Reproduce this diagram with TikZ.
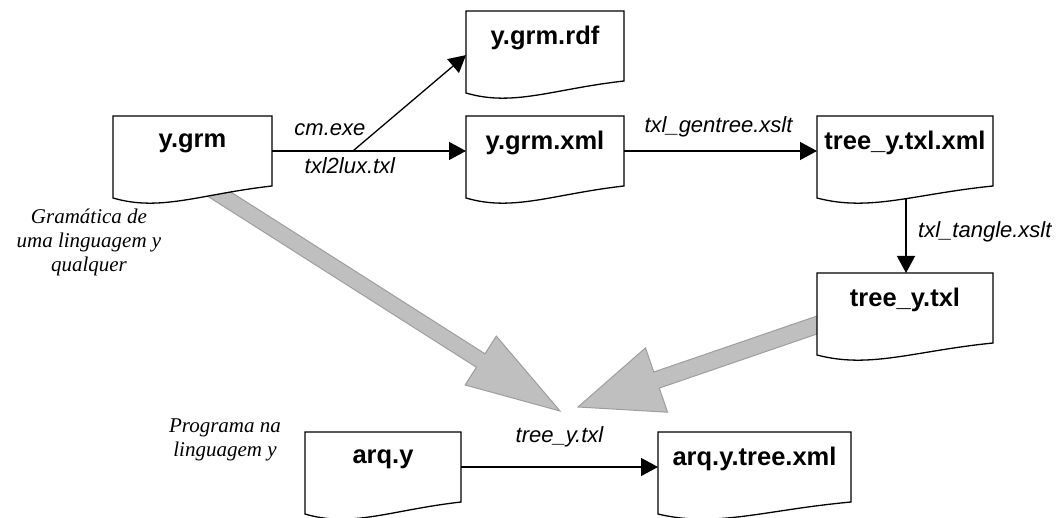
\documentclass[tikz,border=0pt]{standalone}
\usepackage{fontspec}
\setmainfont{Liberation Sans}
\newfontfamily\notefont{Liberation Serif}
\usetikzlibrary{arrows.meta,calc,backgrounds}

% document symbol: flat top, wavy bottom; text sits in the upper part
\newcommand\docbox[5]{%
  \node[docnode, minimum width=#4pt, anchor=north west] (#1) at (#2,#3) {};
  \draw[docline] (#1.north west) -- (#1.north east) -- (#1.south east)
    .. controls ($(#1.south west)!0.55!(#1.south east)+(0,8)$)
       and ($(#1.south west)!0.3!(#1.south east)+(0,26)$)
    .. ($(#1.south west)+(0,12)$) -- cycle;
  \node[doctext] (#1-t) at ($(#1.north)+(0,27)$) {#5};
}

% broad grey block arrow: start, tip, head length, head half width, shaft half width
\newcommand\bigarrow[5]{%
  \coordinate (bas) at ($(#2)!1.06!(#1)$);
  \coordinate (bab) at ($(#2)!#3pt!(#1)$);
  \path[bigarrow] ($(bas)!#5pt!90:(#2)$) -- ($(bab)!#5pt!90:(#2)$)
    -- ($(bab)!#4pt!90:(#2)$) -- (#2) -- ($(bab)!#4pt!-90:(#2)$)
    -- ($(bab)!#5pt!-90:(#2)$) -- ($(bas)!#5pt!-90:(#2)$) -- cycle;
}

\begin{document}
\begin{tikzpicture}[x=1pt,y=-1pt,
  docnode/.style={inner sep=0pt,outer sep=0pt,minimum height=70pt},
  docline/.style={draw=black,fill=white,line width=1.3pt,line join=miter},
  doctext/.style={font=\fontsize{25.5}{30}\selectfont\bfseries,inner sep=0pt},
  flow/.style={draw=black,line width=1.3pt,-{Triangle[length=17pt,width=18pt]}},
  lab/.style={font=\fontsize{22}{26}\selectfont\itshape,inner sep=0pt},
  note/.style={font=\notefont\itshape\fontsize{21}{24}\selectfont,align=center,inner sep=0pt},
  bigarrow/.style={fill=black!25,draw=black!38,line width=1pt,line join=miter}
]
\useasboundingbox (0,0) rectangle (1058,518);

% files
\docbox{grm}{113}{116}{159}{y.grm}
\docbox{rdf}{466}{11}{158}{y.grm.rdf}
\docbox{xml}{466}{116}{158}{y.grm.xml}
\docbox{treexml}{817}{116}{176}{tree\_y.txl.xml}
\docbox{treetxl}{817}{273}{176}{tree\_y.txl}
\docbox{arq}{305}{432}{156}{arq.y}
\docbox{arqxml}{658}{432}{193}{arq.y.tree.xml}

% side notes
\node[note] (gram) at (89,242) {Gramática de\\uma linguagem y\\qualquer};
\node[note] (prog) at (225,440) {Programa na\\linguagem y};

% processing steps
\draw[flow] (grm.east) -- (xml.west);
\coordinate (split) at ($(grm.east)!0.417!(xml.west)$);
\draw[flow] (split) -- ($(rdf.west)!0.26!(rdf.south west)$);
\node[lab] (lcm) at ($(split)+(-23,-21)$) {cm.exe};
\node[lab] (ltxl) at ($(split)+(-3,15)$) {txl2lux.txl};

\draw[flow] (xml.east) -- (treexml.west);
\node[lab] (lgen) at ($(xml.east)!0.5!(treexml.west)+(-2,-24)$) {txl\_gentree.xslt};

\coordinate (txbot) at ($(treexml.south)+(1,13)$);
\draw[flow] (txbot) -- (txbot |- treetxl.north);
\node[lab,anchor=west] (ltangle) at ($(txbot)!0.45!(txbot |- treetxl.north)+(12,0)$) {txl\_tangle.xslt};

\draw[flow] (arq.east) -- (arqxml.west);
\node[lab] (ltree) at ($(arq.east)!0.5!(arqxml.west)+(0,-30)$) {tree\_y.txl};

% grammar and tree feed the generated parser
\begin{pgfonlayer}{background}
  \coordinate (g1t) at (560,411);
  \coordinate (g1s) at ($(grm.south west)!0.667!(grm.south east)+(0,8)$);
  \bigarrow{g1s}{g1t}{94}{29}{8}
  \coordinate (g2t) at (578,407);
  \coordinate (g2s) at ($(treetxl.west)+(0,17)$);
  \bigarrow{g2s}{g2t}{83}{34}{8.5}
\end{pgfonlayer}
\end{tikzpicture}
\end{document}
